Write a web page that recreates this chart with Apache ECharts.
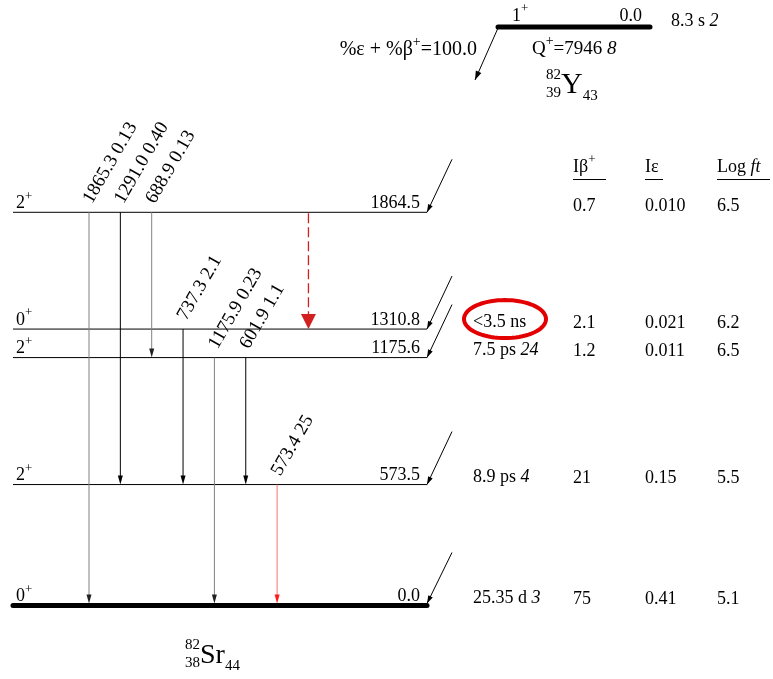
<!DOCTYPE html>
<html>
<head>
<meta charset="utf-8">
<script src="https://cdn.jsdelivr.net/npm/echarts@6/dist/echarts.min.js"></script>
<style>html,body{margin:0;padding:0;background:#fff}#chart{width:773px;height:679px}</style>
</head>
<body>
<div id="chart"></div>
<script>
// ---------------- DATA ----------------
const levelEnergies = [0.0, 573.5, 1175.6, 1310.8, 1864.5];
const levelLabels = ['0.0', '573.5', '1175.6', '1310.8', '1864.5'];
const levelSpins = ['0', '2', '2', '0', '2'];
const levelParities = ['+', '+', '+', '+', '+'];
const levelHalfLives = ['25.35 d', '8.9 ps', '7.5 ps', '<3.5 ns', ''];
const levelHalfLifeErrors = ['3', '4', '24', '', ''];
const betaPlusIntensities = ['75', '21', '1.2', '2.1', '0.7'];
const ecIntensities = ['0.41', '0.15', '0.011', '0.021', '0.010'];
const logFtValues = ['5.1', '5.5', '6.5', '6.2', '6.5'];

const gammaEnergies = ['1865.3', '1291.0', '688.9', '737.3', '1175.9', '601.9', '573.4'];
const gammaIntensities = [0.13, 0.40, 0.13, 2.1, 0.23, 1.1, 25];
const gammaIntensityLabels = ['0.13', '0.40', '0.13', '2.1', '0.23', '1.1', '25'];
const gammaFromLevel = [4, 4, 4, 3, 2, 2, 1];
const gammaToLevel = [0, 1, 2, 1, 0, 1, 0];

const dashedFromLevel = [4];
const dashedToLevel = [3];

const parentLevelEnergies = [0.0];
const parentLevelLabels = ['0.0'];
const parentSpins = ['1'];
const parentParities = ['+'];
const parentHalfLives = ['8.3 s'];
const parentHalfLifeErrors = ['2'];
const qValues = ['7946'];
const qValueErrors = ['8'];
const branchTexts = ['100.0'];

const tableHeaders = ['Iβ', 'Iε', 'Log '];
const parentNuclide = ['82', '39', 'Y', '43'];
const daughterNuclide = ['82', '38', 'Sr', '44'];
const highlightedHalfLifeLevel = [3];

// ---------------- LAYOUT / STYLE ----------------
const FONT = 'Liberation Serif';
const LX0 = 13, LX1 = 427;
const GX0 = 89, GDX = 31.35;
const COL_T = 473, COL_B = 573, COL_E = 645, COL_L = 717;

const mctx = document.createElement('canvas').getContext('2d');
function textWidth(t, fs, italic) {
  mctx.font = (italic ? 'italic ' : '') + fs + 'px "' + FONT + '"';
  return mctx.measureText(t).width;
}
// segments: [{t, fs, italic, rise}] placed on a common baseline
function compose(x, baseline, segs, align) {
  let total = 0;
  segs.forEach(s => { total += textWidth(s.t, s.fs, s.italic); });
  let cx = align === 'right' ? x - total : (align === 'center' ? x - total / 2 : x);
  const out = [];
  segs.forEach(s => {
    const b = baseline - (s.rise || 0);
    out.push({
      type: 'text', silent: true, x: cx, y: b - 0.34 * s.fs,
      style: { text: s.t, fontFamily: FONT, fontSize: s.fs, fontStyle: s.italic ? 'italic' : 'normal', fill: '#000', align: 'left', verticalAlign: 'middle' }
    });
    cx += textWidth(s.t, s.fs, s.italic);
  });
  return out;
}
function txt(x, baseline, text, fs, align) {
  return compose(x, baseline, [{ t: text, fs: fs }], align);
}
function supSeg(t, fs) { return { t: t, fs: Math.round(fs * 0.72), rise: 0.48 * fs }; }

function arrowHead(tipX, tipY, fromX, fromY, len, halfW, color) {
  const dx = tipX - fromX, dy = tipY - fromY;
  const d = Math.sqrt(dx * dx + dy * dy);
  const ux = dx / d, uy = dy / d;
  const bx = tipX - ux * len, by = tipY - uy * len;
  const px = -uy, py = ux;
  return {
    type: 'polygon', silent: true,
    shape: { points: [[tipX, tipY], [bx + px * halfW, by + py * halfW], [bx - px * halfW, by - py * halfW]] },
    style: { fill: color }
  };
}
function gammaColor(I) {
  if (I >= 10) return { line: '#ff7070', head: '#ff1a1a' };
  if (I >= 0.3) return { line: '#000000', head: '#000000' };
  return { line: '#808080', head: '#222222' };
}

// ---------------- RENDERERS ----------------
function renderLevel(params, api) {
  const i = params.dataIndex;
  const E = api.value(1);
  const p0 = api.coord([LX0, E]);
  const p1 = api.coord([LX1, E]);
  const y = p0[1];
  const ground = E === 0;
  let ch = [];
  ch.push({
    type: 'line', silent: true,
    shape: { x1: p0[0], y1: y, x2: p1[0], y2: y },
    style: { stroke: '#000', lineWidth: ground ? 5 : 1, lineCap: ground ? 'round' : 'butt' }
  });
  ch = ch.concat(compose(16, y - 3, [{ t: levelSpins[i], fs: 18 }, supSeg(levelParities[i], 18)], 'left'));
  ch = ch.concat(txt(420, y - 3, levelLabels[i], 18, 'right'));
  // feeding arrow from the parent decay
  const fx = p1[0] + 25, fy = y - 53;
  const tx = p1[0], ty = y - (ground ? 2 : 0);
  ch.push({ type: 'line', silent: true, shape: { x1: fx, y1: fy, x2: tx, y2: ty }, style: { stroke: '#000', lineWidth: 1 } });
  ch.push(arrowHead(tx, ty, fx, fy, 8, 2.5, '#000'));
  if (levelHalfLives[i]) {
    const segs = [{ t: levelHalfLives[i], fs: 18 }];
    if (levelHalfLifeErrors[i]) segs.push({ t: ' ' + levelHalfLifeErrors[i], fs: 18, italic: true });
    ch = ch.concat(compose(COL_T, y - 1, segs, 'left'));
  }
  if (highlightedHalfLifeLevel.indexOf(i) >= 0) {
    const cx = COL_T + 32, cy = y - 10, rx = 41, ry = 19;
    const pts = [];
    for (let k = 0; k < 72; k++) {
      const a = k / 72 * Math.PI * 2;
      pts.push([cx + rx * Math.cos(a), cy + ry * Math.sin(a)]);
    }
    ch.push({ type: 'polygon', silent: true, shape: { points: pts }, style: { fill: 'none', stroke: '#e30000', lineWidth: 4 } });
  }
  ch = ch.concat(txt(COL_B, y, betaPlusIntensities[i], 18, 'left'));
  ch = ch.concat(txt(COL_E, y, ecIntensities[i], 18, 'left'));
  ch = ch.concat(txt(COL_L, y, logFtValues[i], 18, 'left'));
  return { type: 'group', children: ch };
}

function renderGamma(params, api) {
  const k = params.dataIndex;
  const x = GX0 + k * GDX;
  const Efrom = levelEnergies[gammaFromLevel[k]];
  const Eto = levelEnergies[gammaToLevel[k]];
  const top = api.coord([x, Efrom]);
  const bot = api.coord([x, Eto]);
  const c = gammaColor(gammaIntensities[k]);
  const tipY = bot[1] - (Eto === 0 ? 2 : 0);
  const ch = [];
  ch.push({ type: 'line', silent: true, shape: { x1: top[0], y1: top[1], x2: bot[0], y2: tipY - 7 }, style: { stroke: c.line, lineWidth: 1 } });
  ch.push(arrowHead(bot[0], tipY, top[0], top[1], 9, 2.5, c.head));
  const rot = Math.PI * 60 / 180;
  ch.push({
    type: 'text', silent: true, x: top[0] + 7, y: top[1] - 5.5, rotation: rot,
    style: {
      text: gammaEnergies[k] + ' ' + gammaIntensityLabels[k], fontFamily: FONT, fontSize: 19,
      fill: '#000', align: 'left', verticalAlign: 'bottom'
    }
  });
  return { type: 'group', children: ch };
}

function renderDashed(params, api) {
  const k = params.dataIndex;
  const x = GX0 + (gammaEnergies.length + k) * GDX;
  const top = api.coord([x, levelEnergies[dashedFromLevel[k]]]);
  const bot = api.coord([x, levelEnergies[dashedToLevel[k]]]);
  const col = '#d21f1f';
  return {
    type: 'group', children: [
      { type: 'line', silent: true, shape: { x1: top[0], y1: top[1] + 1, x2: bot[0], y2: bot[1] - 14 }, style: { stroke: col, lineWidth: 1.3, lineDash: [10, 4] } },
      arrowHead(bot[0], bot[1], top[0], top[1], 15, 7.5, col)
    ]
  };
}

function renderParent(params, api) {
  const i = params.dataIndex;
  const E = api.value(1);
  const p0 = api.coord([498, E]);
  const p1 = api.coord([650, E]);
  const y = p0[1];
  let ch = [];
  ch.push({ type: 'line', silent: true, shape: { x1: p0[0], y1: y, x2: p1[0], y2: y }, style: { stroke: '#000', lineWidth: 5, lineCap: 'round' } });
  ch = ch.concat(compose(512, y - 5, [{ t: parentSpins[i], fs: 18 }, supSeg(parentParities[i], 18)], 'left'));
  ch = ch.concat(txt(642, y - 5, parentLevelLabels[i], 18, 'right'));
  ch = ch.concat(compose(671, y, [{ t: parentHalfLives[i], fs: 18 }, { t: ' ' + parentHalfLifeErrors[i], fs: 18, italic: true }], 'left'));
  // decay arrow
  const ex = p0[0] - 23, ey = y + 53;
  ch.push({ type: 'line', silent: true, shape: { x1: p0[0], y1: y + 1, x2: ex, y2: ey }, style: { stroke: '#000', lineWidth: 1 } });
  ch.push(arrowHead(ex, ey, p0[0], y, 9, 3, '#000'));
  ch = ch.concat(compose(532, y + 28, [
    { t: 'Q', fs: 19 }, supSeg('+', 19), { t: '=' + qValues[i], fs: 19 }, { t: ' ' + qValueErrors[i], fs: 19, italic: true }
  ], 'left'));
  ch = ch.concat(compose(477, y + 30, [
    { t: '%ε + %β', fs: 20 }, supSeg('+', 20), { t: '=' + branchTexts[i], fs: 20 }
  ], 'right'));
  return { type: 'group', children: ch };
}

// ---------------- GRAPHIC TEXT ----------------
function nuclideLabel(xRight, baseline, parts, bigFs) {
  const small = 15;
  const bigW = textWidth(parts[2], bigFs);
  return []
    .concat(txt(xRight, baseline - 15, parts[0], small, 'right'))
    .concat(txt(xRight, baseline + 3, parts[1], small, 'right'))
    .concat(txt(xRight, baseline, parts[2], bigFs, 'left'))
    .concat(txt(xRight + bigW, baseline + 6, parts[3], small, 'left'));
}

const headerEls = []
  .concat(compose(COL_B, 173, [{ t: tableHeaders[0], fs: 18 }, supSeg('+', 18)], 'left'))
  .concat(txt(COL_E, 173, tableHeaders[1], 18, 'left'))
  .concat(compose(COL_L, 173, [{ t: tableHeaders[2], fs: 18 }, { t: 'ft', fs: 18, italic: true }], 'left'))
  .concat([
    { type: 'line', shape: { x1: COL_B, y1: 179.5, x2: COL_B + 33, y2: 179.5 }, style: { stroke: '#000', lineWidth: 1 } },
    { type: 'line', shape: { x1: COL_E, y1: 179.5, x2: COL_E + 18, y2: 179.5 }, style: { stroke: '#000', lineWidth: 1 } },
    { type: 'line', shape: { x1: COL_L, y1: 179.5, x2: COL_L + 53, y2: 179.5 }, style: { stroke: '#000', lineWidth: 1 } }
  ]);

// ---------------- CHART ----------------
const chart = echarts.init(document.getElementById('chart'), null, { renderer: 'canvas' });
const hiddenAxis = { show: false, axisLine: { show: false }, axisTick: { show: false }, axisLabel: { show: false }, splitLine: { show: false } };

chart.setOption({
  animation: false,
  backgroundColor: '#ffffff',
  grid: [
    { left: 0, right: 0, top: 0, bottom: 0 },
    { left: 0, right: 0, top: 17, height: 20 }
  ],
  xAxis: [
    Object.assign({ type: 'value', gridIndex: 0, min: 0, max: 773 }, hiddenAxis),
    Object.assign({ type: 'value', gridIndex: 1, min: 0, max: 773 }, hiddenAxis)
  ],
  yAxis: [
    Object.assign({ type: 'value', gridIndex: 0, min: -348.5, max: 2871.2 }, hiddenAxis),
    Object.assign({ type: 'value', gridIndex: 1, min: -1, max: 1 }, hiddenAxis)
  ],
  graphic: nuclideLabel(561, 95, parentNuclide, 30)
    .concat(nuclideLabel(200, 665, daughterNuclide, 28))
    .concat(headerEls),
  series: [
    {
      type: 'custom', name: 'levels', xAxisIndex: 0, yAxisIndex: 0, clip: false, silent: true,
      renderItem: renderLevel,
      encode: { x: 0, y: 1 },
      data: levelEnergies.map((e, i) => [i, e])
    },
    {
      type: 'custom', name: 'gammas', xAxisIndex: 0, yAxisIndex: 0, clip: false, silent: true,
      renderItem: renderGamma,
      encode: { x: 0, y: 1 },
      data: gammaEnergies.map((g, k) => [k, levelEnergies[gammaFromLevel[k]], levelEnergies[gammaToLevel[k]]])
    },
    {
      type: 'custom', name: 'dashed', xAxisIndex: 0, yAxisIndex: 0, clip: false, silent: true,
      renderItem: renderDashed,
      encode: { x: 0, y: 1 },
      data: dashedFromLevel.map((f, k) => [k, levelEnergies[f], levelEnergies[dashedToLevel[k]]])
    },
    {
      type: 'custom', name: 'parent', xAxisIndex: 1, yAxisIndex: 1, clip: false, silent: true,
      renderItem: renderParent,
      encode: { x: 0, y: 1 },
      data: parentLevelEnergies.map((e, i) => [i, e])
    }
  ]
});
</script>
</body>
</html>
